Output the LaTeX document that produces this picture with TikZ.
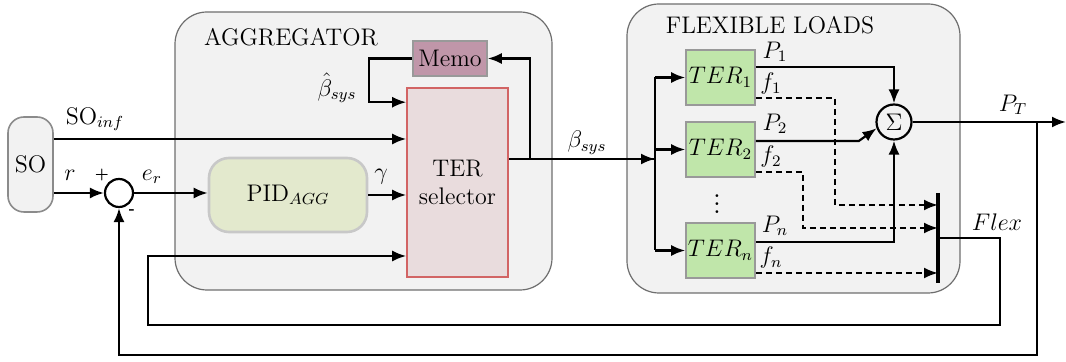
\documentclass[tikz,border=0pt]{standalone}
\usepackage{tikz}
\usetikzlibrary{positioning, arrows.meta, calc}

\definecolor{boxgray}{HTML}{F2F2F2}
\definecolor{edgegray}{HTML}{6E6E6E}
\definecolor{pidfill}{HTML}{E3E9CD}
\definecolor{pidedge}{HTML}{C8C8C8}
\definecolor{selfill}{HTML}{E9DCDD}
\definecolor{seledge}{HTML}{D26464}
\definecolor{memofill}{HTML}{C096A9}
\definecolor{terfill}{HTML}{C0E6AA}

\begin{document}
\begin{tikzpicture}[
				x=0.5pt, y=-0.5pt,
				font=\large,
				line width=1.1pt,
				>={Latex[length=7pt,width=5.5pt]},
				container/.style={draw=edgegray, fill=boxgray, rounded corners=16pt, line width=0.6pt, inner sep=0pt},
				block/.style={draw=edgegray!70, line width=0.8pt, inner sep=0pt, align=center},
				terbox/.style={block, fill=terfill, minimum width=34.5pt, minimum height=27.5pt},
				junction/.style={draw, circle, inner sep=0pt},
				dsh/.style={dash pattern=on 3pt off 2pt}
				]
				\useasboundingbox (0,0) rectangle (1066,362);
				% containers
				\node[container, minimum width=188.5pt, minimum height=139pt] (agg) at (363.5,151) {};
				\node[container, minimum width=166.5pt, minimum height=144.5pt] (flex) at (793.5,148.5) {};
				\node (agglabel) at (291,37) {AGGREGATOR};
				\node (flexlabel) at (770,25) {FLEXIBLE LOADS};
				% blocks
				\node[block, draw=edgegray!80, fill=boxgray, rounded corners=8pt, minimum width=22.5pt, minimum height=47.5pt] (so) at (30.5,164.5) {SO};
				\node[junction, minimum size=14pt] (sum) at (119,193) {};
				\node[block, draw=pidedge, line width=1.3pt, fill=pidfill, rounded corners=10pt, minimum width=79pt, minimum height=37pt] (pid) at (288,195) {PID$_{AGG}$};
				\node[block, draw=seledge, fill=selfill, minimum width=50.5pt, minimum height=94.5pt] (sel) at (457.5,182.5) {TER\\selector};
				\node[block, fill=memofill, minimum width=37pt, minimum height=17.5pt] (memo) at (450,58.5) {Memo};
				\node[terbox] (ter1) at (720.5,77.5) {$TER_1$};
				\node[terbox] (ter2) at (720.5,149.5) {$TER_2$};
				\node[terbox] (tern) at (720.5,250.5) {$TER_n$};
				\node[font=\Large, inner sep=0pt] (dots) at (717,198) {$\vdots$};
				\node[junction, minimum size=17.5pt] (sig) at (894,122) {$\Sigma$};
				% helper points
				\coordinate (split) at (655,159);
				\coordinate (memtap) at (530,159);
				\coordinate (bartop) at (938,193);
				\coordinate (barbot) at (938,283);
				\coordinate (bar1) at (938,205);
				\coordinate (bar2) at (938,228);
				\coordinate (flexout) at (938,238);
				\coordinate (flexturn) at (1000,325);
				\coordinate (fbturn) at (148,256);
				\coordinate (pttap) at (1037,122);
				\coordinate (ptend) at (1066,122);
				\coordinate (outer) at (119,355);
				% aggregator wiring
				\draw[->] ($(so.east)+(0,-25.5)$) -- (sel.west |- {$(so.east)+(0,-25.5)$});
				\draw[->] (so.east |- sum) -- (sum.west);
				\draw[->] (sum.east) -- (sum.east -| pid.west);
				\draw[->] (pid.east) -- (pid.east -| sel.west);
				\draw (sel.east |- memtap) -- (split);
				\draw[->] (memtap) |- (memo.east);
				\draw[->] (memo.west) -- ++(-43,0) |- ($(sel.north west)+(0,15)$);
				\draw[->] (flexout) -| (flexturn) -| (fbturn) -- (sel.west |- fbturn);
				% flexible loads wiring
				\draw[->] ($(split)+(-20,0)$) -- (split);
				\draw (split |- ter1) -- (split |- tern);
				\draw[->] (split |- ter1) -- (ter1.west);
				\draw[->] (split |- ter2) -- (ter2.west);
				\draw[->] (split |- tern) -- (tern.west);
				\draw[->] ($(ter1.east)+(0,-10.5)$) -| (sig.north);
				\draw[->] ($(ter2.east)+(0,-8.5)$) -- ++(103,0) -- (sig.200);
				\draw[->] ($(tern.east)+(0,-8.5)$) -| (sig.south);
				\draw[dsh, ->] ($(ter1.east)+(0,20.5)$) -- ++(79,0) |- (bar1);
				\draw[dsh, ->] ($(ter2.east)+(0,22.5)$) -- ++(47,0) |- (bar2);
				\draw[dsh, ->] ($(tern.east)+(0,22.5)$) -- (barbot |- {$(tern.east)+(0,22.5)$});
				\draw[line width=1.6pt] (bartop) -- (barbot);
				\draw[->] (sig.east) -- (ptend);
				\draw[->] (pttap) |- (outer) -- (sum.south);
				% labels
				\node (soinf) at (95,119) {SO$_{inf}$};
				\node (rlab) at (70,175) {$r$};
				\node (erlab) at (152,177) {$e_r$};
				\node[font=\scriptsize\bfseries] (plus) at (102,175) {+};
				\node[font=\scriptsize\bfseries] (minus) at (132,212) {-};
				\node (gamlab) at (381,177) {$\gamma$};
				\node (bhatlab) at (337,88) {$\hat{\beta}_{sys}$};
				\node (betalab) at (587,143) {$\beta_{sys}$};
				\node (p1lab) at (775,52) {$P_1$};
				\node (f1lab) at (771,84) {$f_1$};
				\node (p2lab) at (775,124) {$P_2$};
				\node (f2lab) at (771,157) {$f_2$};
				\node (pnlab) at (775,226) {$P_n$};
				\node (fnlab) at (771,258) {$f_n$};
				\node (ptlab) at (1013,105) {$P_T$};
				\node (flexlab) at (997,222) {$Flex$};
			\end{tikzpicture}
\end{document}
